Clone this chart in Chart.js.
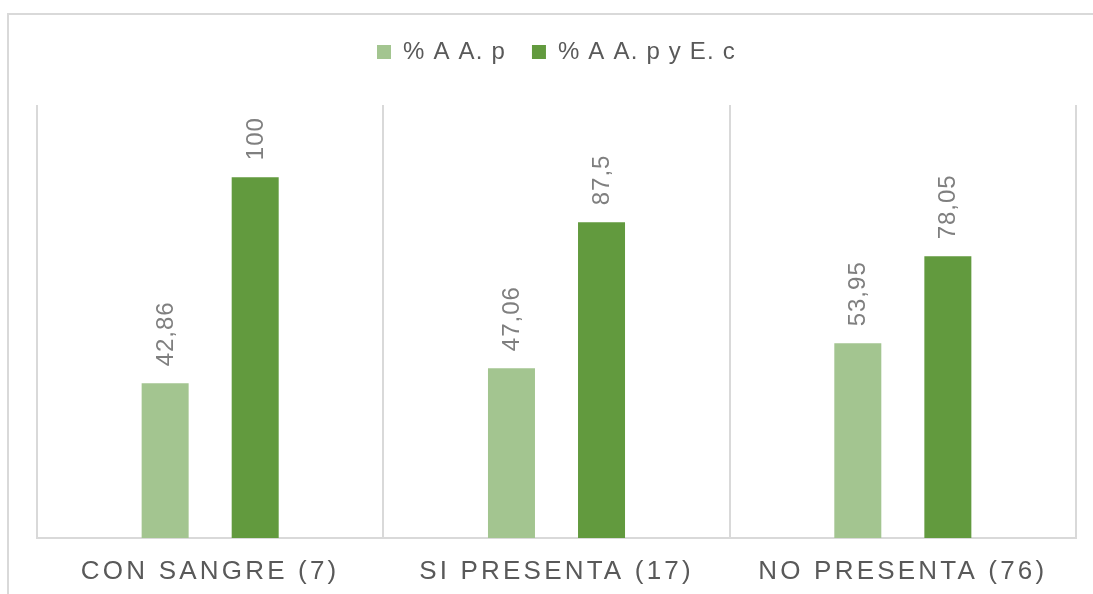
<!DOCTYPE html>
<html>
<head>
<meta charset="utf-8">
<script src="https://cdn.jsdelivr.net/npm/chart.js@4.4.1/dist/chart.umd.min.js"></script>
<style>
  html, body { margin: 0; padding: 0; background: #ffffff; overflow: hidden; }
  #frame {
    position: absolute; left: 7px; top: 13px; width: 3000px; height: 3000px;
    border-left: 2px solid #d9d9d9; border-top: 2px solid #d9d9d9;
  }
  #wrap { position: absolute; left: 0; top: 0; width: 1093px; height: 594px; }
</style>
</head>
<body>
<div id="frame"></div>
<div id="wrap"><canvas id="chart" width="1093" height="594"></canvas></div>
<script>
// Categories and series
const categories = ['CON SANGRE (7)', 'SI PRESENTA (17)', 'NO PRESENTA (76)'];
const seriesNames = ['% A A. p', '% A A. p y E. c'];
const pctAAp = [42.86, 47.06, 53.95];
const pctAApEc = [100, 87.5, 78.05];

const FONT = 'Arial, "Liberation Sans", sans-serif';

// Slightly open letter spacing for all chart text; wider for the category axis
const spacing = {
  id: 'spacing',
  beforeLayout(chart) { chart.ctx.letterSpacing = '1.2px'; },
  afterLayout(chart) {
    const ctx = chart.ctx;
    const x = chart.scales.x;
    if (x && !x._spaced) {
      const orig = x.drawLabels.bind(x);
      x.drawLabels = (area) => {
        const prev = ctx.letterSpacing;
        ctx.letterSpacing = '3.2px';
        orig(area);
        ctx.letterSpacing = prev;
      };
      x._spaced = true;
    }
  },
  beforeDraw(chart) { chart.ctx.letterSpacing = '1.2px'; }
};

// Extra room between the legend and the plot area
const legendGap = {
  id: 'legendGap',
  beforeInit(chart) {
    const fit = chart.legend.fit;
    chart.legend.fit = function () {
      fit.call(this);
      this.height += 31;
    };
  }
};

// Writes each bar's value vertically above it (decimal comma)
const valueLabels = {
  id: 'valueLabels',
  afterDatasetsDraw(chart) {
    const ctx = chart.ctx;
    ctx.save();
    ctx.letterSpacing = '1px';
    ctx.fillStyle = '#7f7f7f';
    ctx.font = '24px ' + FONT;
    ctx.textAlign = 'left';
    ctx.textBaseline = 'middle';
    chart.data.datasets.forEach((ds, di) => {
      chart.getDatasetMeta(di).data.forEach((bar, i) => {
        const txt = String(ds.data[i]).replace('.', ',');
        ctx.save();
        ctx.translate(bar.x + 1, bar.y - 17);
        ctx.rotate(-Math.PI / 2);
        ctx.fillText(txt, 0, 0);
        ctx.restore();
      });
    });
    ctx.restore();
  }
};

new Chart(document.getElementById('chart'), {
  type: 'bar',
  data: {
    labels: categories,
    datasets: [
      { label: seriesNames[0], data: pctAAp, backgroundColor: '#a3c590' },
      { label: seriesNames[1], data: pctAApEc, backgroundColor: '#629a3e' }
    ]
  },
  options: {
    responsive: false,
    animation: false,
    devicePixelRatio: 1,
    categoryPercentage: 0.52,
    barPercentage: 0.522,
    layout: { padding: { left: 37, right: 17, top: 14, bottom: 0 } },
    plugins: {
      legend: {
        position: 'top',
        labels: {
          color: '#595959',
          font: { family: FONT, size: 24 },
          boxWidth: 14,
          boxHeight: 14,
          padding: 26
        }
      },
      tooltip: { enabled: false }
    },
    scales: {
      x: {
        grid: { display: true, offset: true, color: '#d9d9d9', lineWidth: 2, drawTicks: false },
        border: { display: true, color: '#d9d9d9', width: 2 },
        ticks: {
          color: '#595959',
          font: { family: FONT, size: 26 },
          padding: 18,
          maxRotation: 0,
          autoSkip: false
        },
        afterFit(scale) { scale.height = 56; }
      },
      y: {
        display: false,
        min: 0,
        max: 120
      }
    }
  },
  plugins: [spacing, legendGap, valueLabels]
});
</script>
</body>
</html>
